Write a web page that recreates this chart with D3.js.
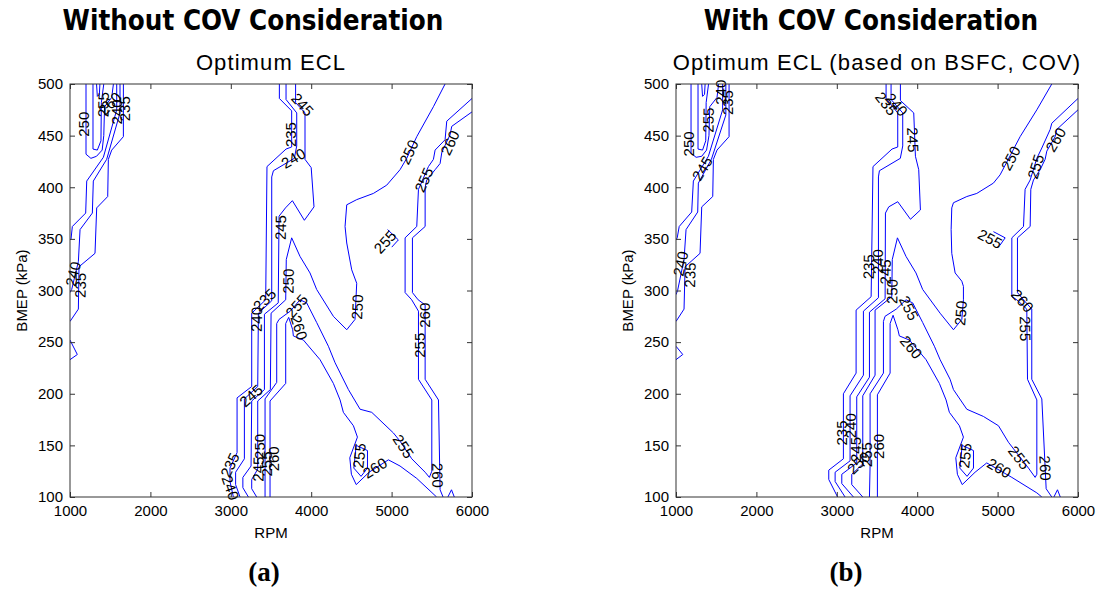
<!DOCTYPE html>
<html>
<head>
<meta charset="utf-8">
<script src="https://cdn.jsdelivr.net/npm/d3@7"></script>
<style>
  body { margin: 0; background: #fff; }
  svg text { font-family: "Liberation Sans", Arial, sans-serif; }
</style>
</head>
<body>
<svg id="fig" width="1102" height="615"></svg>
<script>
// Axis ticks
const rpmTicks = [1000, 2000, 3000, 4000, 5000, 6000];
const bmepTicks = [100, 150, 200, 250, 300, 350, 400, 450, 500];

// ---- Panel (a): Optimum ECL, iso-BSFC contours [RPM, BMEP kPa] ----
const aLeft235 = [[1664,500],[1664,449],[1519,436],[1477,427],[1469,391],[1332,380],[1311,336],[1112,323],[1104,282],[1000,270]];
const aLeft240 = [[1622,500],[1622,472],[1456,427],[1290,406],[1278,375],[1125,359],[1104,328],[1021,301],[1000,298]];
const aLeft245 = [[1581,500],[1581,475],[1415,429],[1208,406],[1195,375],[1029,362],[1013,350],[1000,349]];
const aLeft250 = [[1199,500],[1199,432],[1260,428],[1330,430],[1400,436],[1420,450],[1430,478],[1519,487],[1540,500]];
const aLeft255 = [[1286,500],[1286,437],[1340,436],[1385,445],[1390,482],[1420,500]];
const aLeft260 = [[1330,500],[1340,488],[1365,490],[1372,500]];
const aLeftV = [[1000,252],[1091,238],[1000,233]];
const aMid235 = [[3604,500],[3604,486],[3757,474],[3757,439],[3687,437],[3450,420],[3434,291],[3260,278],[3260,207],[3078,196],[3078,143],[2990,128],[2990,115],[3032,100]];
const aMid240 = [[3687,500],[3687,485],[3820,472],[3820,440],[3790,428],[3530,416],[3509,410],[3509,290],[3343,278],[3335,207],[3169,195],[3169,137],[3060,124],[3060,112],[3115,100]];
const aMid245 = [[3806,500],[3806,482],[3923,472],[3923,427],[4000,419],[4035,381],[3915,368],[3766,387],[3680,380],[3600,372],[3590,288],[3418,277],[3418,204],[3260,193],[3252,130],[3150,119],[3150,109],[3219,100]];
const aMid250 = [[5665,500],[5520,478],[5313,449],[5188,428],[5105,417],[4939,402],[4773,394],[4566,388],[4442,383],[4421,362],[4442,346],[4504,320],[4566,307],[4545,272],[4442,262],[4276,275],[4068,301],[3985,317],[3861,333],[3757,351],[3690,330],[3683,291],[3501,278],[3492,204],[3335,193],[3335,127],[3260,117],[3260,108],[3322,100]];
const aMid255 = [[6000,486],[5686,464],[5665,446],[5541,436],[5520,427],[5458,420],[5334,398],[5313,362],[5168,351],[5168,298],[5250,291],[5334,280],[5334,214],[5500,194],[5500,125],[5470,119],[5417,124],[5251,137],[5106,154],[5023,162],[4753,182],[4608,185],[4463,204],[4297,230],[4214,246],[4068,269],[3944,288],[3861,291],[3740,280],[3600,272],[3571,268],[3571,211],[3426,195],[3426,100]];
const aMid260 = [[3488,100],[3488,193],[3683,210],[3683,268],[3720,274],[3770,262],[3778,256],[3903,252],[4110,233],[4276,210],[4359,194],[4400,182],[4525,169],[4575,158],[4480,138],[4500,122],[4560,112],[4720,124],[4960,136],[5105,130],[5313,118],[5560,100]];
const aRight260 = [[6000,473],[5748,459],[5728,451],[5625,434],[5603,423],[5541,417],[5437,407],[5417,400],[5417,362],[5259,351],[5259,298],[5330,291],[5417,286],[5417,214],[5583,194],[5603,107],[5640,100]];
const aLoop255 = [[4560,150],[4700,145],[4700,128],[4620,120],[4530,128],[4560,150]];
const aSmall255 = [[4950,359],[5084,349],[5002,342]];
const aCorner265 = [[5700,100],[5745,107],[5780,100]];
// contour labels: [level, RPM, BMEP]
const aLabels = [
  [250,1174,461],[255,1415,480],[260,1498,481],[240,1581,473],[235,1676,476],
  [240,1040,316],[235,1130,305],
  [245,3891,480],[235,3750,451],[240,3779,428],[245,3621,361],[250,3716,309],
  [255,3820,285],[260,3849,264],[240,3322,272],[235,3420,291],[245,3252,198],
  [250,3364,149],[245,3343,127],[255,3447,132],[260,3530,137],[235,2990,131],[240,2995,109],
  [250,5217,434],[255,5404,407],[260,5727,443],[255,4919,347],[250,4574,284],
  [260,5410,276],[255,5354,247],[255,5147,149],[255,4600,140],[260,4794,128],[260,5570,121]
];

// ---- Panel (b): Optimum ECL based on BSFC and COV ----
const bLeft235 = [[1660,500],[1660,449],[1510,436],[1465,427],[1457,391],[1320,381],[1299,336],[1113,323],[1100,282],[1000,270]];
const bLeft240 = [[1620,500],[1620,470],[1440,427],[1278,404],[1270,376],[1125,359],[1100,330],[1020,300],[1000,296]];
const bLeft245 = [[1580,500],[1580,475],[1403,430],[1216,406],[1195,376],[1040,362],[1015,351],[1000,349]];
const bLeft250 = [[1187,500],[1187,433],[1250,429],[1320,430],[1380,436],[1410,450],[1420,478],[1510,487],[1530,500]];
const bLeft255 = [[1274,500],[1274,437],[1330,436],[1370,445],[1375,482],[1405,500]];
const bLeft260 = [[1320,500],[1330,488],[1355,490],[1362,500]];
const bLeftV = [[1000,246],[1084,238],[1000,233]];
const bMid235 = [[3613,500],[3613,486],[3758,472],[3758,439],[3687,437],[3450,420],[3427,294],[3240,281],[3240,220],[3082,200],[3082,137],[2900,126],[2900,117],[3010,100]];
const bMid240 = [[3675,500],[3675,485],[3820,472],[3820,440],[3790,428],[3530,416],[3518,410],[3518,293],[3331,280],[3331,218],[3165,198],[3165,135],[2979,124],[2979,115],[3103,100]];
const bMid245 = [[3791,500],[3791,484],[3957,472],[3978,430],[4019,417],[4040,378],[3916,369],[3758,386],[3646,381],[3605,375],[3601,292],[3406,279],[3406,216],[3248,197],[3248,133],[3062,122],[3062,113],[3207,100]];
const bMid250 = [[5674,500],[5488,475],[5280,449],[5031,412],[4948,404],[4741,394],[4617,391],[4451,385],[4430,380],[4422,359],[4430,336],[4472,317],[4555,309],[4575,304],[4575,291],[4555,272],[4451,262],[4285,278],[4068,301],[3985,317],[3861,333],[3754,351],[3690,330],[3684,294],[3476,281],[3476,218],[3323,198],[3323,132],[3186,122],[3186,112],[3323,100]];
const bMid255 = [[6000,486],[5674,462],[5654,456],[5550,438],[5488,428],[5405,407],[5342,398],[5322,362],[5177,351],[5177,294],[5239,291],[5363,282],[5372,214],[5488,194],[5488,122],[5467,119],[5384,128],[5135,153],[5011,169],[4824,178],[4617,185],[4451,204],[4409,214],[4285,233],[4214,246],[4068,269],[3944,288],[3861,291],[3740,282],[3600,275],[3580,270],[3580,220],[3414,200],[3414,130],[3406,100]];
const bMid260 = [[3505,100],[3505,199],[3663,220],[3663,268],[3700,276],[3760,262],[3778,256],[3903,252],[4110,233],[4276,210],[4359,194],[4400,182],[4525,169],[4575,158],[4480,138],[4500,122],[4560,112],[4720,124],[4865,133],[5177,119],[5488,104],[5550,100]];
const bRight260 = [[6000,475],[5736,456],[5716,449],[5612,435],[5591,427],[5529,417],[5446,407],[5413,398],[5405,362],[5247,351],[5247,298],[5322,291],[5425,282],[5425,214],[5550,195],[5604,108],[5674,100]];
const bLoop255 = [[4560,150],[4700,145],[4700,128],[4620,120],[4530,128],[4560,150]];
const bSmall255 = [[4948,357],[5094,351],[5031,344]];
const bCorner265 = [[5700,100],[5745,107],[5780,100]];
const bLabels = [
  [250,1162,442],[255,1403,465],[245,1328,418],[240,1560,492],[235,1640,482],
  [240,1059,326],[235,1175,315],
  [235,3613,481],[240,3741,480],[245,3945,446],[235,3397,323],[240,3509,328],[245,3605,318],
  [250,3688,299],[255,3895,283],[260,3924,245],
  [235,3066,162],[240,3169,169],[245,3231,146],[250,3273,133],[255,3377,141],[260,3522,149],
  [250,5164,428],[255,5475,420],[260,5724,446],[255,4907,350],[250,4542,278],
  [260,5309,290],[255,5342,263],[255,5268,138],[255,4596,140],[260,5019,128],[260,5591,128]
];

const panels = [
  {
    left: 70, right: 472, headX: 253, capX: 264, caption: "(a)",
    heading: "Without COV Consideration", title: "Optimum ECL",
    lines: [
      {level:235, pts:aLeft235},{level:240, pts:aLeft240},{level:245, pts:aLeft245},
      {level:250, pts:aLeft250},{level:255, pts:aLeft255},{level:260, pts:aLeft260},
      {level:235, pts:aLeftV},
      {level:235, pts:aMid235},{level:240, pts:aMid240},{level:245, pts:aMid245},
      {level:250, pts:aMid250},{level:255, pts:aMid255},{level:260, pts:aMid260},
      {level:260, pts:aRight260},{level:255, pts:aLoop255},{level:255, pts:aSmall255},
      {level:265, pts:aCorner265}
    ],
    labels: aLabels
  },
  {
    left: 676, right: 1078, headX: 871, capX: 846, caption: "(b)",
    heading: "With COV Consideration", title: "Optimum ECL (based on BSFC, COV)",
    lines: [
      {level:235, pts:bLeft235},{level:240, pts:bLeft240},{level:245, pts:bLeft245},
      {level:250, pts:bLeft250},{level:255, pts:bLeft255},{level:260, pts:bLeft260},
      {level:235, pts:bLeftV},
      {level:235, pts:bMid235},{level:240, pts:bMid240},{level:245, pts:bMid245},
      {level:250, pts:bMid250},{level:255, pts:bMid255},{level:260, pts:bMid260},
      {level:260, pts:bRight260},{level:255, pts:bLoop255},{level:255, pts:bSmall255},
      {level:265, pts:bCorner265}
    ],
    labels: bLabels
  }
];

const svg = d3.select("#fig");
const plotTop = 84, plotBottom = 497;

panels.forEach((p, i) => {
  const x = d3.scaleLinear().domain([1000, 6000]).range([p.left, p.right]);
  const y = d3.scaleLinear().domain([100, 500]).range([plotBottom, plotTop]);
  const g = svg.append("g");
  const clipId = "plotclip" + i;

  g.append("clipPath").attr("id", clipId)
    .append("rect").attr("x", p.left).attr("y", plotTop)
    .attr("width", p.right - p.left).attr("height", plotBottom - plotTop);

  // contour lines
  const line = d3.line().x(d => x(d[0])).y(d => y(d[1]));
  g.append("g").attr("clip-path", `url(#${clipId})`)
    .selectAll("path").data(p.lines).join("path")
    .attr("d", d => line(d.pts))
    .attr("fill", "none").attr("stroke", "#0000ff").attr("stroke-width", 1);

  // inline contour labels, rotated along the nearest segment of their level
  function angleAt(level, px, py) {
    let best = Infinity, ang = 0;
    p.lines.filter(l => l.level === level).forEach(l => {
      for (let k = 0; k < l.pts.length - 1; k++) {
        const ax = x(l.pts[k][0]), ay = y(l.pts[k][1]);
        const bx = x(l.pts[k+1][0]), by = y(l.pts[k+1][1]);
        const dx = bx - ax, dy = by - ay, len2 = dx*dx + dy*dy || 1;
        let t = ((px - ax)*dx + (py - ay)*dy) / len2;
        t = Math.max(0, Math.min(1, t));
        const qx = ax + t*dx - px, qy = ay + t*dy - py;
        const dd = qx*qx + qy*qy;
        if (dd < best) { best = dd; ang = Math.atan2(dy, dx) * 180 / Math.PI; }
      }
    });
    if (ang >= 90) ang -= 180;
    if (ang < -90) ang += 180;
    return ang;
  }
  g.append("g").selectAll("text").data(p.labels).join("text")
    .attr("transform", d => {
      const px = x(d[1]), py = y(d[2]);
      return `translate(${px},${py}) rotate(${angleAt(d[0], px, py)})`;
    })
    .attr("text-anchor", "middle").attr("dy", "0.35em")
    .attr("font-size", 15).attr("fill", "#000")
    .text(d => d[0]);

  // axes with inward ticks on all four sides
  const tick = 5;
  g.append("g").attr("transform", `translate(0,${plotBottom})`)
    .call(d3.axisBottom(x).tickValues(rpmTicks).tickSize(-tick).tickPadding(8).tickFormat(d3.format("d")));
  g.append("g").attr("transform", `translate(0,${plotTop})`)
    .call(d3.axisTop(x).tickValues(rpmTicks).tickSize(-tick).tickFormat(""));
  g.append("g").attr("transform", `translate(${p.left},0)`)
    .call(d3.axisLeft(y).tickValues(bmepTicks).tickSize(-tick).tickPadding(7).tickFormat(d3.format("d")));
  g.append("g").attr("transform", `translate(${p.right},0)`)
    .call(d3.axisRight(y).tickValues(bmepTicks).tickSize(-tick).tickFormat(""));
  g.selectAll(".domain").remove();
  g.selectAll(".tick line").attr("stroke", "#333");
  g.selectAll(".tick text").attr("font-size", 15).attr("fill", "#000")
    .attr("font-family", "'Liberation Sans', Arial, sans-serif");
  g.append("rect").attr("x", p.left).attr("y", plotTop)
    .attr("width", p.right - p.left).attr("height", plotBottom - plotTop)
    .attr("fill", "none").attr("stroke", "#333").attr("stroke-width", 1);

  // axis titles
  const mid = (p.left + p.right) / 2;
  g.append("text").attr("x", mid).attr("y", 538).attr("text-anchor", "middle")
    .attr("font-size", 15).text("RPM");
  g.append("text").attr("transform", `translate(${p.left - 43},${(plotTop + plotBottom) / 2}) rotate(-90)`)
    .attr("text-anchor", "middle").attr("font-size", 15).text("BMEP (kPa)");
  g.append("text").attr("x", mid).attr("y", 70).attr("text-anchor", "middle")
    .attr("font-size", 22).attr("letter-spacing", 1.1).text(p.title);

  // panel heading and caption
  g.append("text").attr("x", p.headX).attr("y", 30).attr("text-anchor", "middle")
    .style("font-family", "'DejaVu Sans Condensed', 'DejaVu Sans', sans-serif")
    .attr("font-weight", "bold").attr("font-size", 27.5).text(p.heading);
  g.append("text").attr("x", p.capX).attr("y", 581).attr("text-anchor", "middle")
    .style("font-family", "'Liberation Serif', 'Times New Roman', serif")
    .attr("font-weight", "bold").attr("font-size", 27).text(p.caption);
});
</script>
</body>
</html>
